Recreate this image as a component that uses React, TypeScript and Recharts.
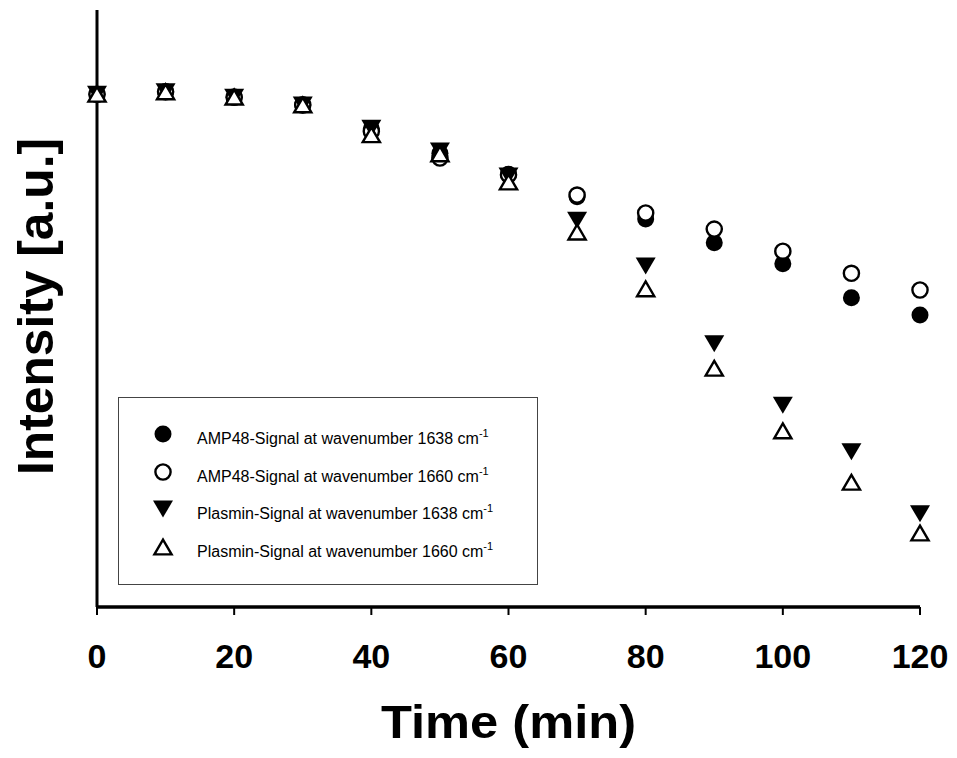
import { ScatterChart, Scatter, XAxis, YAxis } from 'recharts'

// time points (min)
const times = [0, 10, 20, 30, 40, 50, 60, 70, 80, 90, 100, 110, 120]
const xTicks = [0, 20, 40, 60, 80, 100, 120]

// intensity, arbitrary units
const amp1638 = [85.9, 86.3, 85.4, 84.1, 80.1, 76.0, 72.5, 68.7, 65.0, 61.0, 57.5, 51.8, 48.9]
const amp1660 = [85.9, 86.3, 85.4, 84.1, 79.7, 75.2, 72.4, 69.0, 66.0, 63.3, 59.6, 55.9, 53.1]
const plasmin1638 = [85.9, 86.3, 85.4, 84.1, 80.2, 76.4, 72.2, 64.8, 57.1, 44.1, 33.8, 26.0, 15.6]
const plasmin1660 = [85.9, 86.3, 85.4, 84.1, 79.1, 75.9, 71.2, 62.8, 53.3, 40.0, 29.5, 20.9, 12.4]

const toPoints = (vals: number[]) => times.map((t, i) => ({ t, v: vals[i] }))

const FONT = '"Liberation Sans", Arial, Helvetica, sans-serif'

const FilledCircle = (p: any) => <circle cx={p.cx} cy={p.cy} r={8.5} fill="#000" />
const OpenCircle = (p: any) => (
  <circle cx={p.cx} cy={p.cy} r={7.6} fill="#fff" stroke="#000" strokeWidth={2.4} />
)
const DownTriangle = (p: any) => {
  const w = 10, h = 8.5
  return (
    <path
      d={`M${p.cx - w},${p.cy - h} L${p.cx + w},${p.cy - h} L${p.cx},${p.cy + h} Z`}
      fill="#000"
    />
  )
}
const UpTriangle = (p: any) => {
  const w = 8.6, h = 7.4
  return (
    <path
      d={`M${p.cx - w},${p.cy + h} L${p.cx + w},${p.cy + h} L${p.cx},${p.cy - h} Z`}
      fill="#fff"
      stroke="#000"
      strokeWidth={2.4}
      strokeLinejoin="miter"
    />
  )
}

const legendRows = [
  { name: 'AMP48-Signal at wavenumber 1638 cm', kind: 'fc' },
  { name: 'AMP48-Signal at wavenumber 1660 cm', kind: 'oc' },
  { name: 'Plasmin-Signal at wavenumber 1638 cm', kind: 'dt' },
  { name: 'Plasmin-Signal at wavenumber 1660 cm', kind: 'ut' },
]

function LegendIcon({ kind }: { kind: string }) {
  return (
    <svg width={22} height={22} style={{ position: 'absolute', left: 33, top: -11 }}>
      {kind === 'fc' && <FilledCircle cx={11} cy={11} />}
      {kind === 'oc' && <OpenCircle cx={11} cy={11} />}
      {kind === 'dt' && <DownTriangle cx={11} cy={11} />}
      {kind === 'ut' && <UpTriangle cx={11} cy={11} />}
    </svg>
  )
}

function LegendBox() {
  return (
    <div
      style={{
        position: 'absolute',
        left: 118,
        top: 397,
        width: 418,
        height: 186,
        border: '1.5px solid #444',
        background: '#fff',
        fontFamily: FONT,
        fontSize: 16,
        color: '#000',
      }}
    >
      {legendRows.map((r, i) => (
        <div key={r.name} style={{ position: 'absolute', left: 0, top: 36 + i * 37.5 }}>
          <LegendIcon kind={r.kind} />
          <div style={{ position: 'absolute', left: 78, top: -5, whiteSpace: 'nowrap', lineHeight: '20px' }}>
            {r.name}
            <span style={{ fontSize: 11, position: 'relative', top: -7 }}>-1</span>
          </div>
        </div>
      ))}
    </div>
  )
}

export default function App() {
  return (
    <div style={{ position: 'absolute', left: 0, top: 0, width: 957, height: 758, background: '#fff' }}>
      <ScatterChart width={957} height={758} margin={{ top: 10, right: 37, left: 0, bottom: 0 }}>
        <XAxis
          type="number"
          dataKey="t"
          domain={[0, 120]}
          ticks={xTicks}
          height={151}
          axisLine={{ stroke: '#000', strokeWidth: 3.5 }}
          tickLine={{ stroke: '#000', strokeWidth: 2 }}
          tickSize={8}
          tickMargin={29}
          tick={{ fill: '#000', fontSize: 34, fontWeight: 700, fontFamily: FONT }}
          label={{
            content: (props: any) => {
              const vb = props.viewBox
              return (
                <text
                  x={vb.x + vb.width / 2}
                  y={738}
                  textAnchor="middle"
                  fontSize={47}
                  fontWeight={700}
                  fontFamily={FONT}
                  fill="#000"
                  textLength={255}
                  lengthAdjust="spacingAndGlyphs"
                >
                  Time (min)
                </text>
              )
            },
          }}
        />
        <YAxis
          type="number"
          dataKey="v"
          domain={[0, 100]}
          width={97}
          tick={false}
          tickLine={false}
          axisLine={{ stroke: '#000', strokeWidth: 3 }}
          label={{
            content: (props: any) => {
              const vb = props.viewBox
              const cy = vb.y + vb.height / 2
              return (
                <text
                  transform={`translate(53, ${cy - 2}) rotate(-90)`}
                  textAnchor="middle"
                  fontSize={50}
                  fontWeight={700}
                  fontFamily={FONT}
                  fill="#000"
                  textLength={337}
                  lengthAdjust="spacingAndGlyphs"
                >
                  Intensity [a.u.]
                </text>
              )
            },
          }}
        />
        <Scatter name="AMP48 1638" data={toPoints(amp1638)} shape={FilledCircle} isAnimationActive={false} />
        <Scatter name="AMP48 1660" data={toPoints(amp1660)} shape={OpenCircle} isAnimationActive={false} />
        <Scatter name="Plasmin 1638" data={toPoints(plasmin1638)} shape={DownTriangle} isAnimationActive={false} />
        <Scatter name="Plasmin 1660" data={toPoints(plasmin1660)} shape={UpTriangle} isAnimationActive={false} />
      </ScatterChart>
      <LegendBox />
    </div>
  )
}
